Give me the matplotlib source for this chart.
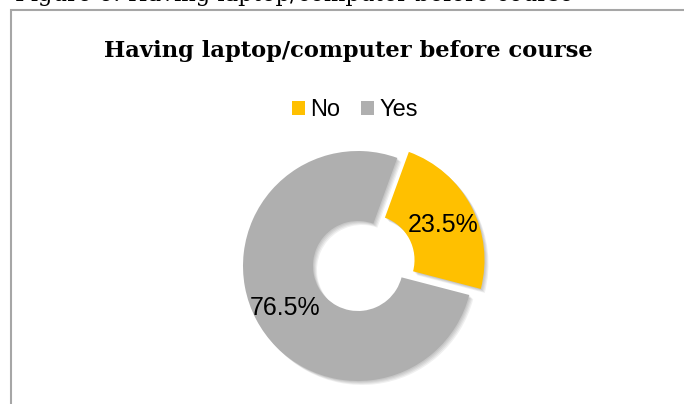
import matplotlib.pyplot as plt
from matplotlib.patches import Rectangle

labels = ['No', 'Yes']
shares = [23.5, 76.5]
colors = ['#FFC000', '#AFAFAF']

W, H = 684, 404
fig = plt.figure(figsize=(W / 100, H / 100), dpi=100)
ax = fig.add_axes([0, 0, 1, 1])

# caption of the figure above the chart frame (mostly cut off by the page)
ax.text(15, H - 1, 'Figure 6: Having laptop/computer before course',
        family='DejaVu Serif', fontsize=16.3, ha='left', va='baseline',
        color='black')

# chart frame: left and top edges
ax.add_patch(Rectangle((11, -20), W + 40, H - 10 + 20, fill=False,
                       edgecolor='#A6A6A6', linewidth=1.5))

ax.text(348, H - 57, 'Having laptop/computer before course',
        family='DejaVu Serif', fontweight='bold', fontsize=16.3,
        ha='center', va='baseline')

cx, cy, R = 358, H - 266, 115
ring = dict(width=70, linewidth=0)
explode = [13, 0]   # data units (pixels)

# soft drop shadow
for d in (4, 3, 2, 1):
    ax.pie(shares, radius=R, center=(cx + d, cy - d), startangle=70,
           counterclock=False, explode=explode, colors=['black', 'black'],
           wedgeprops=dict(ring, alpha=0.06), frame=True)

wedges, _, pcts = ax.pie(shares, radius=R, center=(cx, cy), startangle=70,
                         counterclock=False, explode=explode, colors=colors,
                         wedgeprops=ring, autopct='%1.1f%%', pctdistance=0.72,
                         textprops=dict(family='Liberation Sans', fontsize=18,
                                        color='black'), frame=True)
# nudge the percentage labels a little lower
for t in pcts:
    x, y = t.get_position()
    t.set_position((x, y - 4))

ax.set_xlim(0, W)
ax.set_ylim(0, H)
ax.set_aspect('equal')
ax.axis('off')

ax.legend(wedges, labels, loc='center', bbox_to_anchor=(355 / W, (H - 110) / H),
          ncol=2, frameon=False, prop=dict(family='Liberation Sans', size=17),
          handlelength=0.55, handleheight=0.55, handletextpad=0.2,
          columnspacing=0.9, borderpad=0)

fig.savefig('out.png', dpi=100)
